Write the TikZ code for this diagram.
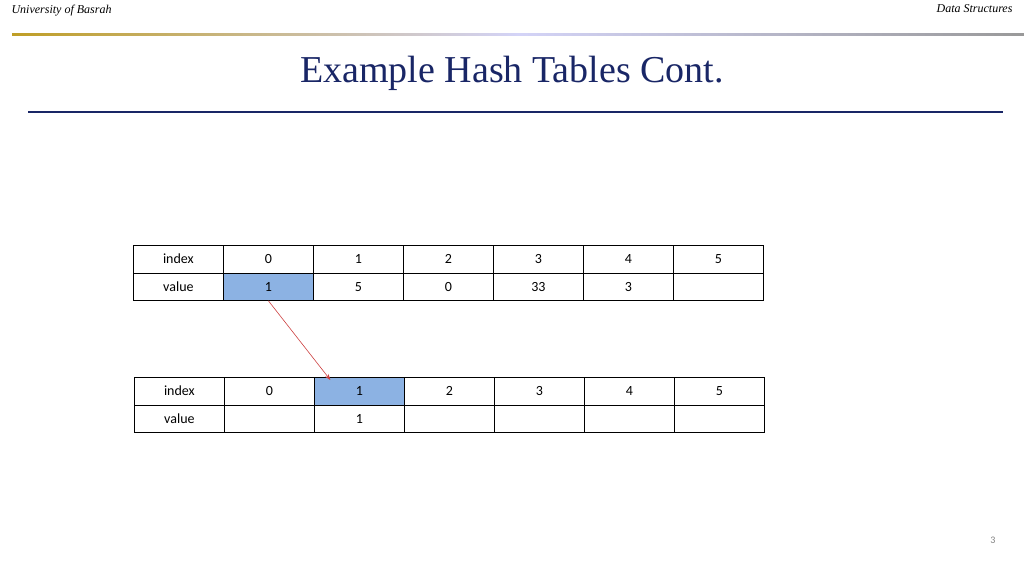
\documentclass[tikz,border=0pt]{standalone}
\usepackage{fontspec}
\setmainfont{Liberation Serif}
\newfontfamily\cellfont{Carlito}
\usetikzlibrary{arrows.meta}
\definecolor{titleblue}{rgb}{0.10, 0.15, 0.40}
\definecolor{hilite}{rgb}{0.55, 0.70, 0.89}
\definecolor{gold}{rgb}{0.75, 0.62, 0.15}
\definecolor{arrowred}{rgb}{0.80, 0.25, 0.25}
\tikzset{
  cell/.style={draw, line width=0.8pt, minimum width=90pt, minimum height=27.5pt,
    inner sep=0pt, anchor=north west, font=\cellfont\fontsize{14}{16}\selectfont},
  marked/.style={cell, fill=hilite},
}
\begin{document}
\begin{tikzpicture}[x=1pt, y=-1pt]
\useasboundingbox (0,0) rectangle (1024,576);
% header
\node[anchor=west, font=\itshape\fontsize{12}{14}\selectfont] (uni) at (8,11) {University of Basrah};
\node[anchor=east, font=\itshape\fontsize{12}{14}\selectfont] (ds) at (1016,9) {Data Structures};
\shade[left color=gold, right color=gray!80, middle color=gray!30!blue!20] (12,33) rectangle (1024,35);
% title
\node[font=\fontsize{38}{44}\selectfont, text=titleblue] (title) at (512,73) {Example Hash Tables Cont.};
\fill[titleblue] (28,111) rectangle (1003,113);

% first table
\node[cell] (a-i) at (133,245) {index};
\node[cell] (a-v) at (133,272.5) {value};
\foreach \k/\val in {0/1,1/5,2/0,3/33,4/3,5/{}} {
  \node[cell] (a-i\k) at (223+90*\k,245) {\k};
  \ifnum\k=0
    \node[marked] (a-v\k) at (223+90*\k,272.5) {\val};
  \else
    \node[cell] (a-v\k) at (223+90*\k,272.5) {\val};
  \fi
}

% second table
\node[cell] (b-i) at (134,377) {index};
\node[cell] (b-v) at (134,404.5) {value};
\foreach \k/\val in {0/{},1/1,2/{},3/{},4/{},5/{}} {
  \ifnum\k=1
    \node[marked] (b-i\k) at (224+90*\k,377) {\k};
  \else
    \node[cell] (b-i\k) at (224+90*\k,377) {\k};
  \fi
  \node[cell] (b-v\k) at (224+90*\k,404.5) {\val};
}

% arrow
\draw[arrowred, line width=0.6pt, -{Stealth[length=6pt]}] (a-v0.south) -- ([xshift=-29pt,yshift=-3pt]b-i1.north);

% page number
\node[font=\cellfont\fontsize{10}{12}\selectfont, text=gray] (pg) at (993,540) {3};
\end{tikzpicture}
\end{document}
